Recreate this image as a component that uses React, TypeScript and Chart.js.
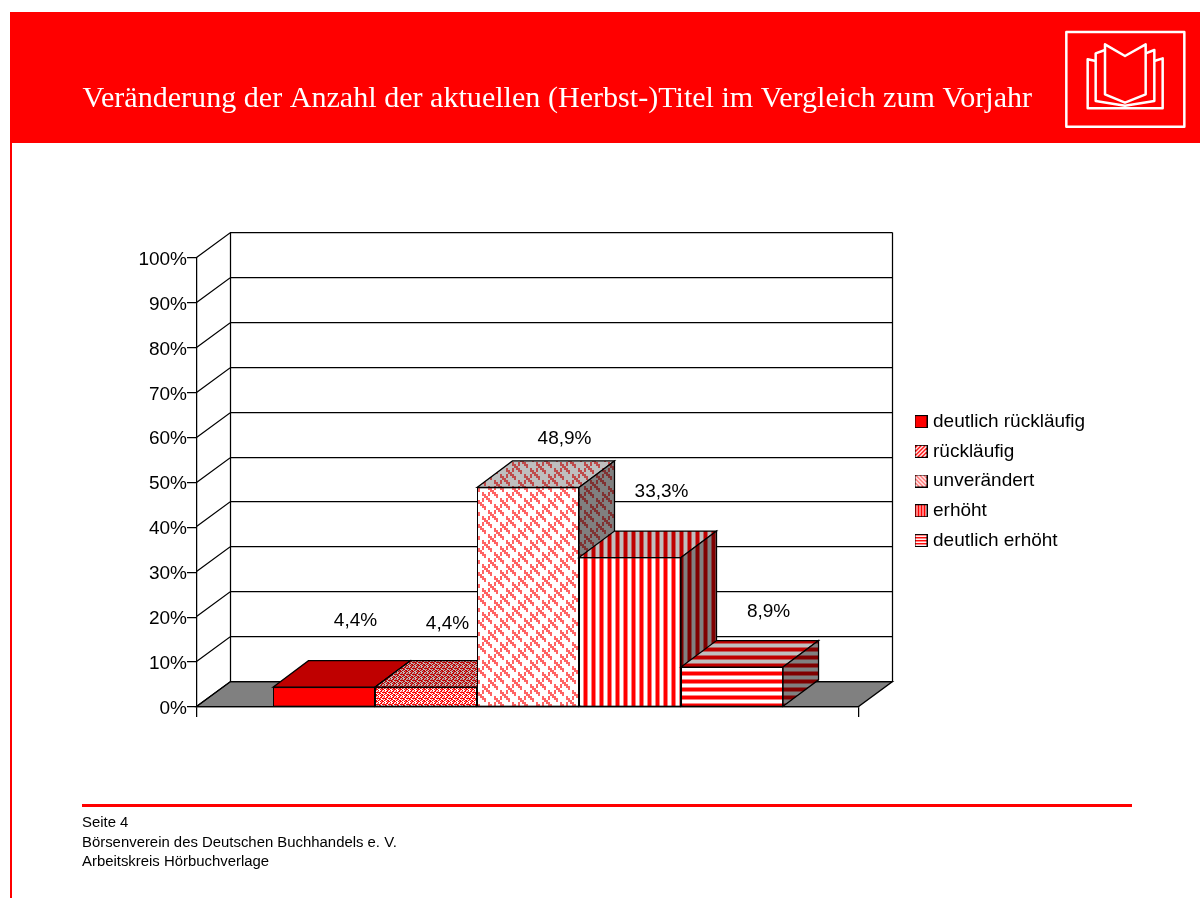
import React, { useEffect, useRef } from "react";
import { Chart, registerables } from "chart.js";

Chart.register(...registerables);

const categories = [""];
const seriesNames = ["deutlich rückläufig", "rückläufig", "unverändert", "erhöht", "deutlich erhöht"];
const seriesValues = [4.4, 4.4, 48.9, 33.3, 8.9];
const titleText = "Veränderung der Anzahl der aktuellen (Herbst-)Titel im Vergleich zum Vorjahr";
const footerLines = ["Seite 4", "Börsenverein des Deutschen Buchhandels e. V.", "Arbeitskreis Hörbuchverlage"];

const FONT = '"Liberation Sans", Arial, sans-serif';
const WALL = { dx: 34, dy: 25 };
const BAR3D = { dx: 35.5, dy: 26.5 };
const LINE = 1.25;
const labelNudgeX = [31.5, 21.5, 36.5, 31.5, 36.5];
const labelNudgeY = [-66, -63, -49, -66, -55];

const PALETTE: Record<string, number[]> = {
  R: [255, 0, 0],
  W: [255, 255, 255],
  P: [255, 128, 128],
  L: [255, 100, 100],
};

function mazeRows() {
  const rows: string[] = [];
  const mod = (a: number, m: number) => ((a % m) + m) % m;
  for (let y = 0; y < 12; y++) {
    let row = "";
    for (let x = 0; x < 12; x++) {
      const d = mod(x - y, 6);
      const s = mod(x + y, 12);
      const on = ((d === 0 || d === 1) && ![5, 6].includes(s)) || ((d === 3 || d === 4) && (s === 10 || s === 11));
      row += on ? "L" : "W";
    }
    rows.push(row);
  }
  return rows;
}

const barTiles: { rows: string[]; cell: number }[] = [
  { rows: ["R"], cell: 1 },
  { rows: ["RWWRPW", "PWRRWP", "RRPWRR", "WRRWWP", "RPWRRW", "WWRPRR"], cell: 1 },
  { rows: mazeRows(), cell: 2 },
  { rows: ["RRRPWWWP"], cell: 1 },
  { rows: ["R", "R", "R", "P", "W", "W", "W", "P"], cell: 1 },
];

const legendTiles: string[][] = [
  ["R"],
  ["WWRR", "WRRW", "RRWW", "RWWR"],
  ["LLWW", "WLLW", "WWLL", "LWWL"],
  ["RRW"],
  ["R", "P", "W"],
];

function tileCanvas(rows: string[], cell: number, shade: number) {
  const c = document.createElement("canvas");
  c.width = rows[0].length * cell;
  c.height = rows.length * cell;
  const ctx = c.getContext("2d")!;
  rows.forEach((row, y) => {
    for (let x = 0; x < row.length; x++) {
      const [r, g, b] = PALETTE[row[x]];
      ctx.fillStyle = `rgb(${r * shade},${g * shade},${b * shade})`;
      ctx.fillRect(x * cell, y * cell, cell, cell);
    }
  });
  return c;
}

function makePattern(ctx: CanvasRenderingContext2D, i: number, shade: number) {
  const t = barTiles[i];
  return ctx.createPattern(tileCanvas(t.rows, t.cell, shade), "repeat")!;
}

function legendSwatch(i: number) {
  const c = document.createElement("canvas");
  c.width = 13;
  c.height = 13;
  const ctx = c.getContext("2d")!;
  ctx.fillStyle = ctx.createPattern(tileCanvas(legendTiles[i], 1, 1), "repeat")!;
  ctx.fillRect(0, 0, 13, 13);
  ctx.strokeStyle = "#000";
  ctx.lineWidth = 1;
  ctx.strokeRect(0.5, 0.5, 12, 12);
  return c;
}

function poly(ctx: CanvasRenderingContext2D, pts: number[][], fill: any) {
  ctx.beginPath();
  pts.forEach(([x, y], i) => (i ? ctx.lineTo(x, y) : ctx.moveTo(x, y)));
  ctx.closePath();
  ctx.fillStyle = fill;
  ctx.fill();
  ctx.strokeStyle = "#000";
  ctx.lineWidth = LINE;
  ctx.stroke();
}

const layoutPlugin = {
  id: "legendPlace",
  beforeLayout(chart: any) {
    const l = chart.legend;
    if (l && !l.__wrapped) {
      const fit = l.fit;
      l.fit = function () {
        fit.call(this);
        this.width = 341;
      };
      l.__wrapped = true;
    }
  },
  afterLayout(chart: any) {
    const l = chart.legend;
    l.left = 907.8;
    l.right = 1200;
    l.top += 117.5;
    l.bottom += 117.5;
  },
};

const wallPlugin = {
  id: "walls",
  beforeDatasetsDraw(chart: any) {
    const { ctx, scales } = chart;
    const y = scales.y;
    const left = Math.round(chart.chartArea.left) - 0.5;
    const right = Math.round(chart.chartArea.right) - 0.5;
    const y0 = Math.round(y.getPixelForValue(0)) - 0.5;
    const y100 = Math.round(y.getPixelForValue(100)) - 0.5;
    ctx.save();
    poly(
      ctx,
      [
        [left, y0],
        [left + WALL.dx, y0 - WALL.dy],
        [right + WALL.dx, y0 - WALL.dy],
        [right, y0],
      ],
      "#808080"
    );
    ctx.strokeStyle = "#000";
    ctx.lineWidth = LINE;
    ctx.beginPath();
    y.ticks.forEach((t: any) => {
      const py = Math.round(y.getPixelForValue(t.value)) - 0.5;
      ctx.moveTo(left, py);
      ctx.lineTo(left + WALL.dx, py - WALL.dy);
      ctx.lineTo(right + WALL.dx, py - WALL.dy);
    });
    ctx.moveTo(left + WALL.dx, y100 - WALL.dy);
    ctx.lineTo(left + WALL.dx, y0 - WALL.dy);
    ctx.moveTo(right + WALL.dx, y100 - WALL.dy);
    ctx.lineTo(right + WALL.dx, y0 - WALL.dy);
    ctx.stroke();
    ctx.restore();
  },
};

function bars3dPlugin(tops: any[], sides: any[]) {
  return {
    id: "bars3d",
    afterDatasetsDraw(chart: any) {
      const { ctx } = chart;
      ctx.save();
      chart.data.datasets.forEach((_: any, i: number) => {
        const bar = chart.getDatasetMeta(i).data[0];
        const l = bar.x - bar.width / 2;
        const r = bar.x + bar.width / 2;
        const { dx, dy } = BAR3D;
        poly(ctx, [[l, bar.y], [l + dx, bar.y - dy], [r + dx, bar.y - dy], [r, bar.y]], tops[i]);
        poly(ctx, [[r, bar.y], [r + dx, bar.y - dy], [r + dx, bar.base - dy], [r, bar.base]], sides[i]);
        bar.draw(ctx);
      });
      ctx.fillStyle = "#000";
      ctx.font = `19px ${FONT}`;
      ctx.textAlign = "center";
      ctx.textBaseline = "middle";
      chart.data.datasets.forEach((ds: any, i: number) => {
        const bar = chart.getDatasetMeta(i).data[0];
        const txt = ds.data[0].toFixed(1).replace(".", ",") + "%";
        ctx.fillText(txt, bar.x + labelNudgeX[i], bar.y + labelNudgeY[i]);
      });
      ctx.restore();
    },
  };
}

export default function App() {
  const ref = useRef<HTMLCanvasElement>(null);
  useEffect(() => {
    const canvas = ref.current!;
    const ctx = canvas.getContext("2d")!;
    const fronts = seriesNames.map((_, i) => makePattern(ctx, i, 1));
    const tops = seriesNames.map((_, i) => makePattern(ctx, i, 0.75));
    const sides = seriesNames.map((_, i) => makePattern(ctx, i, 0.5));
    const swatches = seriesNames.map((_, i) => legendSwatch(i));
    const chart = new Chart(canvas, {
      type: "bar",
      data: {
        labels: categories,
        datasets: seriesNames.map((name, i) => ({
          label: name,
          data: [seriesValues[i]],
          backgroundColor: fronts[i],
          borderColor: "#000",
          borderWidth: 1,
          borderSkipped: false,
          categoryPercentage: 0.7705,
          barPercentage: 1,
        })),
      },
      options: {
        responsive: false,
        animation: false,
        events: [],
        layout: { padding: { left: 82.5, right: 0, top: 0, bottom: 171 } },
        scales: {
          x: {
            grid: { drawOnChartArea: false, drawTicks: true, tickLength: 10, color: "#000", offset: true, lineWidth: LINE },
            border: { color: "#000", width: LINE },
            ticks: { display: false },
            afterFit(s: any) {
              s.height = 20;
            },
          },
          y: {
            min: 0,
            max: 100,
            grid: { drawOnChartArea: false, drawTicks: true, tickLength: 10, color: "#000", lineWidth: LINE },
            border: { color: "#000", width: LINE },
            ticks: {
              stepSize: 10,
              padding: 0,
              labelOffset: 1.5,
              color: "#000",
              font: { family: FONT, size: 19 },
              callback: (v: any) => `${v}%`,
            },
            afterFit(s: any) {
              s.width = 114.5;
            },
          },
        },
        plugins: {
          tooltip: { enabled: false },
          title: {
            display: true,
            text: titleText,
            align: "start",
            color: "#fff",
            font: { family: '"Liberation Serif", "Times New Roman", serif', size: 30.1, weight: "normal" },
            padding: { top: 81, bottom: 141 },
          },
          legend: {
            display: true,
            position: "right",
            labels: {
              usePointStyle: true,
              boxWidth: 5,
              boxHeight: 12,
              padding: 10.7,
              color: "#000",
              font: { family: FONT, size: 19 },
              generateLabels: () =>
                seriesNames.map((name, i) => ({
                  text: name,
                  pointStyle: swatches[i],
                  datasetIndex: i,
                  hidden: false,
                  fontColor: "#000",
                })),
            },
          },
        },
      } as any,
      plugins: [layoutPlugin, wallPlugin, bars3dPlugin(tops, sides)] as any,
    });
    return () => chart.destroy();
  }, []);

  const abs = (s: React.CSSProperties): React.CSSProperties => ({ position: "absolute", ...s });
  return (
    <div style={abs({ left: 0, top: 0, width: 1200, height: 898, overflow: "hidden", background: "#fff" })}>
      <div style={abs({ left: 10, top: 12, width: 1190, height: 131, background: "#f00" })} />
      <div style={abs({ left: 10, top: 143, width: 2, height: 755, background: "#f00" })} />
      <canvas ref={ref} width={1200} height={898} style={abs({ left: 0, top: 0, display: "block" })} />
      <svg
        viewBox="0 0 390 375"
        width={130}
        height={125}
        style={abs({ left: 1050, top: 15, overflow: "visible" })}
        fill="none"
        stroke="#fff"
        strokeWidth={7.5}
        strokeLinejoin="round"
      >
        <rect x={49} y={51} width={354} height={284} />
        <polygon points="165,88 225,123 287,88 287,238 225,263 165,238" />
        <polyline points="165,105 137,115 137,258 225,272 313,258 313,105 287,115" />
        <polyline points="137,138 113,133 113,280 225,280 338,280 338,130 313,138" />
      </svg>
      <div style={abs({ left: 82, top: 804, width: 1050, height: 3, background: "#f00" })} />
      {footerLines.map((line, i) => (
        <div
          key={i}
          style={abs({
            left: 82,
            top: 814 + i * 19.5,
            fontFamily: FONT,
            fontSize: 14.9,
            lineHeight: "16px",
            color: "#000",
            whiteSpace: "nowrap",
          })}
        >
          {line}
        </div>
      ))}
    </div>
  );
}
